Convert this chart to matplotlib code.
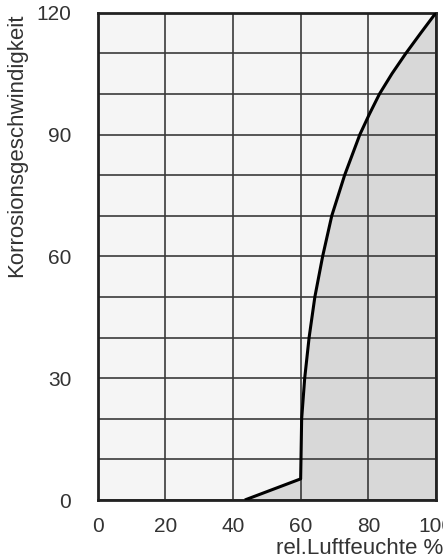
import matplotlib
matplotlib.use("Agg")
import matplotlib.pyplot as plt

# relative humidity (%) vs corrosion rate
humidity = [43.5, 60.0, 60.1, 60.3, 61.2, 62.5, 64.2, 66.5, 69.2, 73.0, 77.5, 80.3, 83.3, 87.0, 91.1, 95.5, 100.0]
rate = [0, 5.2, 10, 20, 30, 40, 50, 60, 70, 80, 90, 95, 100, 105, 110, 115, 120]

x_ticks = [0, 20, 40, 60, 80, 100]
y_ticks = [0, 30, 60, 90, 120]
y_grid = list(range(0, 121, 10))

plt.rcParams['font.family'] = ['Liberation Sans', 'DejaVu Sans']

def main():
    fig = plt.figure(figsize=(4.43, 5.57), dpi=100)
    ax = fig.add_axes([97.6 / 443, 1 - 500 / 557, (436 - 97.6) / 443, (500 - 12.7) / 557])
    ax.set_facecolor('#f5f5f5')

    ax.fill_between(humidity, 0, rate, color='#d8d8d8', zorder=1)

    for gx in x_ticks:
        ax.axvline(gx, color='#3a3a3a', lw=1.2, zorder=2)
    for gy in y_grid:
        ax.axhline(gy, color='#3a3a3a', lw=1.2, zorder=2)

    ax.plot(humidity, rate, color='black', lw=2.2, zorder=3,
            solid_capstyle='butt', solid_joinstyle='round')

    ax.set_xlim(0, 100)
    ax.set_ylim(0, 120)
    ax.set_xticks(x_ticks)
    ax.set_yticks(y_ticks)
    ax.tick_params(length=0, labelsize=15, labelcolor='#333333')
    ax.tick_params(axis='y', pad=19)
    ax.tick_params(axis='x', pad=12)
    for s in ax.spines.values():
        s.set_linewidth(2)
        s.set_color('#222222')

    fig.text(17 / 443, 1 - 145 / 557, 'Korrosionsgeschwindigkeit', rotation=90,
             ha='center', va='center', fontsize=16, color='#333333')
    fig.text(443 / 443, 1 - 549 / 557, 'rel.Luftfeuchte %', ha='right', va='center',
             fontsize=16, color='#333333')

    fig.savefig('out.png', dpi=100)

if __name__ == "__main__":
    main()
